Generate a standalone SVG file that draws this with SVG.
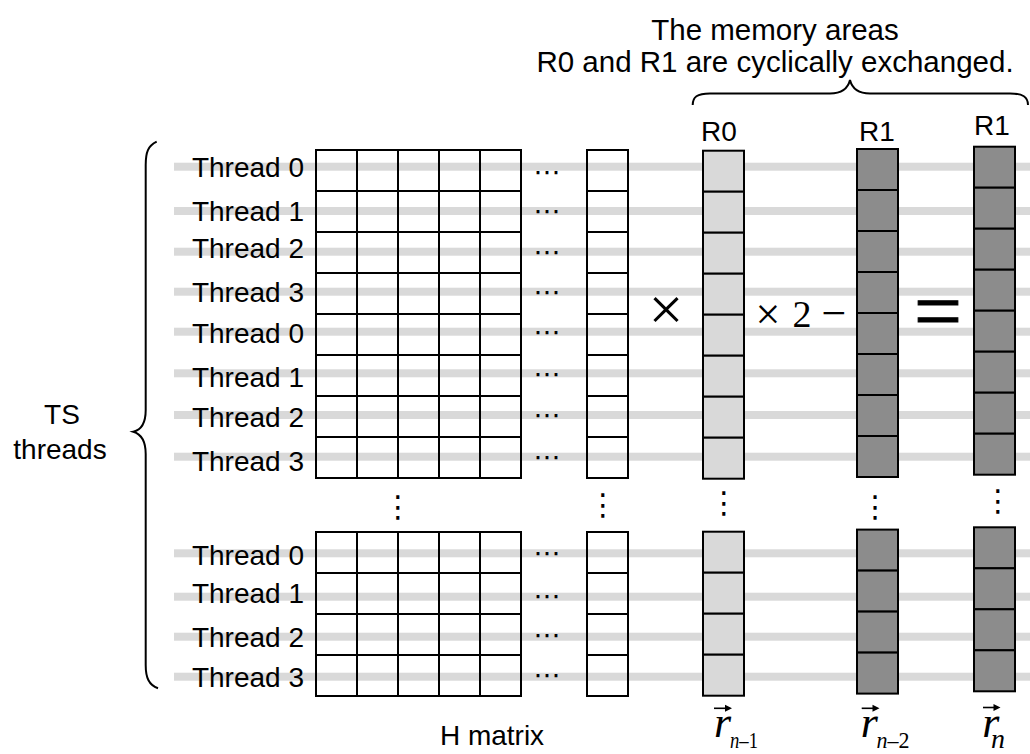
<svg xmlns="http://www.w3.org/2000/svg" xmlns:xlink="http://www.w3.org/1999/xlink" width="1030" height="754" viewBox="0 0 1030 754">
<style>
.lbl{font-family:"Liberation Sans",Arial,sans-serif;font-size:28px;fill:#000}
.top{font-family:"Liberation Sans",Arial,sans-serif;font-size:29.5px;fill:#000}
.band{fill:#d9d9d9}
.cell{fill:none;stroke:#000;stroke-width:2}
.light{fill:#d9d9d9;stroke:#000;stroke-width:2}
.dark{fill:#8c8c8c;stroke:#000;stroke-width:2}
.brace{fill:none;stroke:#000;stroke-width:2}
.hd{font-family:"DejaVu Sans",sans-serif;font-size:27px;fill:#000}
.vd{font-family:"DejaVu Sans",sans-serif;font-size:30px;fill:#000}
.math{font-family:"Liberation Serif","Times New Roman",serif;fill:#000}
.vec{font-family:"Liberation Serif","Times New Roman",serif;font-style:italic;fill:#000}
.arr{stroke:#000;stroke-width:1.6;fill:none}
</style>
<defs>
<g id="col8"><rect x="0" y="0" width="41" height="41"/><rect x="0" y="41" width="41" height="41"/><rect x="0" y="82" width="41" height="41"/><rect x="0" y="123" width="41" height="41"/><rect x="0" y="164" width="41" height="41"/><rect x="0" y="205" width="41" height="41"/><rect x="0" y="246" width="41" height="41"/><rect x="0" y="287" width="41" height="41"/></g>
<g id="col4"><rect x="0" y="0" width="41" height="41"/><rect x="0" y="41" width="41" height="41"/><rect x="0" y="82" width="41" height="41"/><rect x="0" y="123" width="41" height="41"/></g>
<path id="ah" d="M0,0 L-7,-3.5 L-7,3.5 Z"/>
</defs>

<g id="bands">
<rect class="band" x="174" y="162.7" width="856" height="8"/>
<rect class="band" x="174" y="207" width="856" height="8"/>
<rect class="band" x="174" y="247.7" width="856" height="8"/>
<rect class="band" x="174" y="287.7" width="856" height="8"/>
<rect class="band" x="174" y="327.7" width="856" height="8"/>
<rect class="band" x="174" y="369.3" width="856" height="8"/>
<rect class="band" x="174" y="411" width="856" height="8"/>
<rect class="band" x="174" y="452.7" width="856" height="8"/>
<rect class="band" x="174" y="549.3" width="856" height="8"/>
<rect class="band" x="174" y="592.7" width="856" height="8"/>
<rect class="band" x="174" y="632.7" width="856" height="8"/>
<rect class="band" x="174" y="672.7" width="856" height="8"/>
</g>

<g id="thread-labels" class="lbl" text-anchor="end">
<text x="304" y="176.7">Thread 0</text>
<text x="304" y="221">Thread 1</text>
<text x="304" y="257.7">Thread 2</text>
<text x="304" y="301.7">Thread 3</text>
<text x="304" y="343.3">Thread 0</text>
<text x="304" y="386.7">Thread 1</text>
<text x="304" y="426.7">Thread 2</text>
<text x="304" y="470.7">Thread 3</text>
<text x="304" y="565">Thread 0</text>
<text x="304" y="603.3">Thread 1</text>
<text x="304" y="646.7">Thread 2</text>
<text x="304" y="686.7">Thread 3</text>
</g>

<g id="ts-threads" class="lbl" text-anchor="middle">
<text x="62" y="424.3">TS</text>
<text x="60" y="459.3">threads</text>
</g>

<g id="braces">
<path class="brace" d="M156.7,141.7 C148,146 145.7,152 145.7,165 L145.7,410 C145.7,424 141,430 133.3,431.7 C141,434 145.7,440 145.7,454 L145.7,665 C145.7,678 149,685 158,688.3"/>
<path class="brace" d="M692.7,105 C692.7,97 697,93.5 710,93.5 L830,93.5 C843,93.5 848,88 850,80 C852,88 857,93.5 870,93.5 L1010,93.5 C1023,93.5 1028,97 1028,105"/>
</g>

<g id="caption" class="top" text-anchor="middle">
<text x="775" y="40">The memory areas</text>
<text x="775" y="72">R0 and R1 are cyclically exchanged.</text>
</g>

<g id="h-matrix">
<g class="cell">
<rect x="316" y="150" width="205" height="328"/>
<path d="M357,150V478M398,150V478M439,150V478M480,150V478M316,191H521M316,232H521M316,273H521M316,314H521M316,355H521M316,396H521M316,437H521"/>
<rect x="316" y="532" width="205" height="164"/>
<path d="M357,532V696M398,532V696M439,532V696M480,532V696M316,573H521M316,614H521M316,655H521"/>
</g>
<use xlink:href="#col8" href="#col8" class="cell" x="587" y="150"/>
<use xlink:href="#col4" href="#col4" class="cell" x="587" y="532"/>
<g class="hd" text-anchor="middle">
<text x="547" y="181">⋯</text>
<text x="547" y="220">⋯</text>
<text x="547" y="261">⋯</text>
<text x="547" y="301">⋯</text>
<text x="547" y="341">⋯</text>
<text x="547" y="383">⋯</text>
<text x="547" y="424">⋯</text>
<text x="547" y="466">⋯</text>
<text x="547" y="562">⋯</text>
<text x="547" y="605">⋯</text>
<text x="547" y="644">⋯</text>
<text x="547" y="684">⋯</text>
</g>
<g class="vd" text-anchor="middle">
<text x="398" y="517">⋮</text>
<text x="603" y="515">⋮</text>
</g>
<text class="lbl" x="492" y="745" text-anchor="middle">H matrix</text>
</g>

<g id="vec-r0">
<text class="lbl" x="719" y="140.7" text-anchor="middle">R0</text>
<use xlink:href="#col8" href="#col8" class="light" x="703" y="150.7"/>
<use xlink:href="#col4" href="#col4" class="light" x="703" y="531.7"/>
<text class="vd" x="724" y="513" text-anchor="middle">⋮</text>
<text class="vec" x="714" y="737.3" font-size="44">r</text>
<text class="math" x="730" y="748.3" font-size="24" textLength="28" lengthAdjust="spacingAndGlyphs"><tspan font-style="italic">n</tspan>–1</text>
<path class="arr" d="M714,708.3H729"/><use xlink:href="#ah" href="#ah" x="732" y="708.3"/>
</g>

<g id="vec-r1-mid">
<text class="lbl" x="877" y="140.7" text-anchor="middle">R1</text>
<use xlink:href="#col8" href="#col8" class="dark" x="857" y="149"/>
<use xlink:href="#col4" href="#col4" class="dark" x="857" y="529.6"/>
<text class="vd" x="875.3" y="517" text-anchor="middle">⋮</text>
<text class="vec" x="860.7" y="737.3" font-size="44">r</text>
<text class="math" x="876.5" y="748.3" font-size="24" textLength="33" lengthAdjust="spacingAndGlyphs"><tspan font-style="italic">n</tspan>–2</text>
<path class="arr" d="M861.7,708.3H876.5"/><use xlink:href="#ah" href="#ah" x="879.5" y="708.3"/>
</g>

<g id="vec-r1-right">
<text class="lbl" x="992" y="135" text-anchor="middle">R1</text>
<use xlink:href="#col8" href="#col8" class="dark" x="974" y="146.7"/>
<use xlink:href="#col4" href="#col4" class="dark" x="974" y="527.3"/>
<text class="vd" x="998" y="511" text-anchor="middle">⋮</text>
<text class="vec" x="982.3" y="737.3" font-size="44">r</text>
<text class="vec" x="991" y="748" font-size="28">n</text>
<path class="arr" d="M983,707.5H997.5"/><use xlink:href="#ah" href="#ah" x="1000.5" y="707.5"/>
</g>

<g id="operators" class="math">
<text x="666" y="330" font-size="62" text-anchor="middle">×</text>
<text x="768" y="329" font-size="44" text-anchor="middle">×</text>
<text x="802" y="326.7" font-size="38" text-anchor="middle">2</text>
<text x="834" y="328" font-size="44" text-anchor="middle">−</text>
<text x="938" y="340" font-size="85" text-anchor="middle" stroke="#000" stroke-width="1.2">=</text>
</g>
</svg>
